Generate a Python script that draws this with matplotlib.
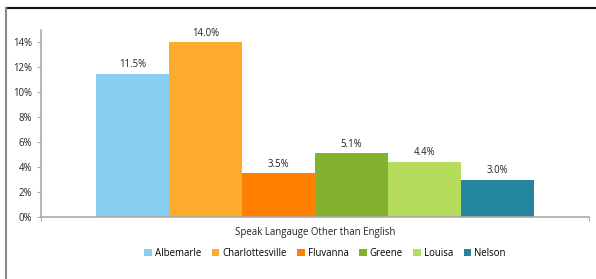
import matplotlib.pyplot as plt
from matplotlib.lines import Line2D
from matplotlib.ticker import FuncFormatter

places = ['Albemarle', 'Charlottesville', 'Fluvanna', 'Greene', 'Louisa', 'Nelson']
values = [11.5, 14.0, 3.5, 5.1, 4.4, 3.0]
colors = ['#87CEF0', '#FFAC2E', '#FF8000', '#82B22E', '#B5DC5A', '#23869E']
category = 'Speak Langauge Other than English'

plt.rcParams['font.family'] = ['Open Sans', 'DejaVu Sans']
fs = 6.9

fig = plt.figure(figsize=(5.96, 2.79), dpi=100)
ax = fig.add_axes([41 / 596, 1 - 217 / 279, 548 / 596, 187 / 279])

w = 0.8 / len(values)
for i, (p, v, c) in enumerate(zip(places, values, colors)):
    x = -0.4 + w * (i + 0.5)
    ax.bar(x, v, width=w, color=c, label=p)
    ax.text(x, v + 0.3, '%.1f%%' % v, ha='center', va='bottom', fontsize=fs, color='#222222')

ax.set_xlim(-0.5, 0.5)
ax.set_ylim(0, 15)
ax.set_yticks(range(0, 15, 2))
ax.yaxis.set_major_formatter(FuncFormatter(lambda y, _: '%d%%' % y))
ax.set_xticks([-0.5, 0.5])
ax.set_xticklabels(['', ''])
ax.tick_params(axis='both', colors='#aaaaaa', labelcolor='#222222', labelsize=fs, length=3, width=0.8)
for s in ['top', 'right']:
    ax.spines[s].set_visible(False)
for s in ['left', 'bottom']:
    ax.spines[s].set_color('#aaaaaa')
    ax.spines[s].set_linewidth(1.2)
ax.set_xlabel(category, fontsize=fs, color='#222222', labelpad=1)

fig.legend(loc='center', bbox_to_anchor=(325 / 596, 1 - 253 / 279), ncol=6, frameon=False,
           fontsize=fs, handlelength=0.8, handleheight=0.8, handletextpad=0.3, columnspacing=1.1)

# frame lines around the chart
fig.add_artist(Line2D([6 / 596, 1], [1 - 8 / 279, 1 - 8 / 279], color='#111111', lw=1.5))
fig.add_artist(Line2D([6 / 596, 6 / 596], [0, 1 - 8 / 279], color='#888888', lw=1.5))

fig.savefig('out.png', dpi=100)
